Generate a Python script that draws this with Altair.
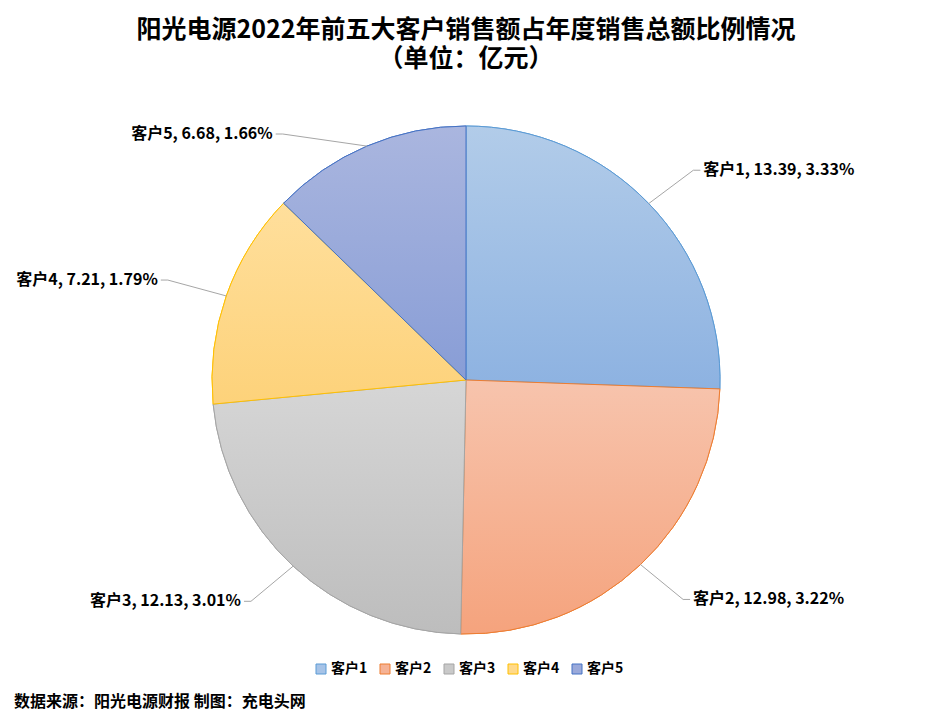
import altair as alt
import pandas as pd

customers = ["客户1", "客户2", "客户3", "客户4", "客户5"]
sales = [13.39, 12.98, 12.13, 7.21, 6.68]
share_pct = [3.33, 3.22, 3.01, 1.79, 1.66]

fill_top = ["#b2cce9", "#f7c4ad", "#d6d6d6", "#ffdf9c", "#aab6df"]
fill_bottom = ["#8db2e1", "#f5a37d", "#bdbdbd", "#fdd27a", "#889dd6"]
legend_fill = ["#a6c3e7", "#f5b295", "#c9c9c9", "#ffd98a", "#9aa9da"]
stroke_col = ["#5b9bd5", "#ed7d31", "#a5a5a5", "#ffc000", "#4472c4"]

title_lines = ["阳光电源2022年前五大客户销售额占年度销售总额比例情况", "（单位：亿元）"]
source_text = "数据来源：阳光电源财报 制图：充电头网"

CX, CY, R = 458, 372, 254
LRX, LRY = 316, 302
TOP_LIMIT = CY - R + 8
FONT = "Noto Sans CJK SC"

df = pd.DataFrame({
    "customer": customers,
    "sales": sales,
    "share": share_pct,
    "order": list(range(len(customers))),
})

base = (
    alt.Chart(df)
    .transform_joinaggregate(total="sum(sales)")
    .transform_window(cum="sum(sales)", sort=[alt.SortField("order")], frame=[None, 0])
    .transform_calculate(
        t1="2*PI*datum.cum/datum.total",
        t0="2*PI*(datum.cum-datum.sales)/datum.total",
    )
    .transform_calculate(mid="(datum.t0+datum.t1)/2")
    .transform_calculate(
        ex=f"{CX}+{R}*sin(datum.mid)",
        ey=f"{CY}-{R}*cos(datum.mid)",
        side="sin(datum.mid) >= 0 ? 1 : -1",
        ky=f"max({CY}-{LRY}*cos(datum.mid), {TOP_LIMIT})",
        label="datum.customer + ', ' + format(datum.sales, '.2f') + ', ' + format(datum.share, '.2f') + '%'",
    )
    .transform_calculate(
        kx=f"{CX}+datum.side*{LRX}*sqrt(max(0, 1-pow((datum.ky-{CY})/{LRY}, 2)))",
    )
    .transform_calculate(
        hx="datum.kx + datum.side*7",
        tx="datum.kx + datum.side*10",
    )
)

theta = alt.Theta("t0:Q", scale=None, stack=None)
theta2 = alt.Theta2("t1:Q")

legend_cfg = dict(
    title=None, orient="none", direction="horizontal",
    legendX=306, legendY=654, symbolType="square", symbolSize=100,
    symbolStrokeWidth=1, labelFontSize=14, labelFont=FONT, labelFontWeight="bold",
    labelColor="#000000", columnPadding=10, symbolOffset=0, labelOffset=3,
)

flat = base.mark_arc(radius=R, strokeWidth=1).encode(
    theta=theta, theta2=theta2,
    x=alt.value(CX), y=alt.value(CY),
    color=alt.Color("customer:N", scale=alt.Scale(domain=customers, range=legend_fill),
                    legend=alt.Legend(**legend_cfg)),
    stroke=alt.Stroke("customer:N", scale=alt.Scale(domain=customers, range=stroke_col),
                      legend=alt.Legend(**legend_cfg)),
)

layers = [flat]
for i in range(len(customers)):
    grad = alt.Gradient(
        gradient="linear",
        stops=[alt.GradientStop(color=fill_top[i], offset=0),
               alt.GradientStop(color=fill_bottom[i], offset=1)],
        x1=0, x2=0, y1=0, y2=1,
    )
    layers.append(
        base.transform_filter(alt.datum.order == i)
        .mark_arc(radius=R, fill=grad, stroke=stroke_col[i], strokeWidth=1)
        .encode(theta=theta, theta2=theta2, x=alt.value(CX), y=alt.value(CY))
    )

leader = base.mark_rule(color="#a6a6a6", strokeWidth=1).encode(
    x=alt.X("ex:Q", scale=None), y=alt.Y("ey:Q", scale=None),
    x2="kx:Q", y2="ky:Q",
)
elbow = base.mark_rule(color="#a6a6a6", strokeWidth=1).encode(
    x=alt.X("kx:Q", scale=None), y=alt.Y("ky:Q", scale=None),
    x2="hx:Q", y2="ky:Q",
)
text_right = base.transform_filter("datum.side > 0").mark_text(
    align="left", baseline="middle", font=FONT, fontSize=16, fontWeight="bold", color="#000000"
).encode(x=alt.X("tx:Q", scale=None), y=alt.Y("ky:Q", scale=None), text="label:N")
text_left = base.transform_filter("datum.side < 0").mark_text(
    align="right", baseline="middle", font=FONT, fontSize=16, fontWeight="bold", color="#000000"
).encode(x=alt.X("tx:Q", scale=None), y=alt.Y("ky:Q", scale=None), text="label:N")

title = alt.Chart(pd.DataFrame({"k": [0]})).mark_text(
    text=title_lines, lineHeight=29,
    font=FONT, fontSize=25, fontWeight="bold", color="#000000", align="center", baseline="middle"
).encode(x=alt.value(CX), y=alt.value(22))
src = alt.Chart(pd.DataFrame({"t": [source_text]})).mark_text(
    font=FONT, fontSize=16, fontWeight="bold", color="#000000", align="left", baseline="middle"
).encode(x=alt.value(6), y=alt.value(694), text="t:N")

chart = (
    alt.layer(*layers, leader, elbow, text_right, text_left, title, src)
    .properties(width=917, height=706, autosize=alt.AutoSizeParams(type="none"), padding=0,
                background="#ffffff")
    .configure_view(stroke=None)
)

chart.save("out.html", embed_options={"renderer": "svg", "actions": False})
